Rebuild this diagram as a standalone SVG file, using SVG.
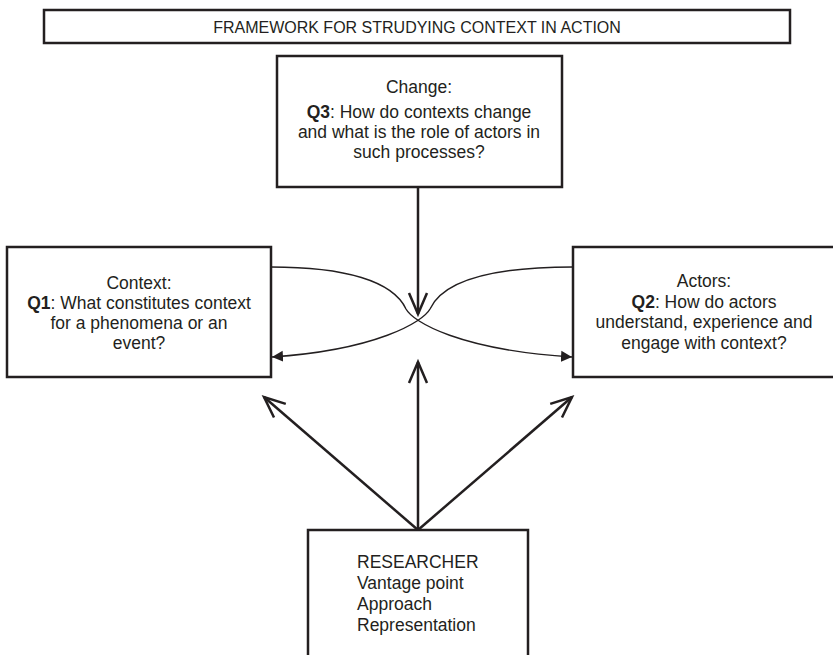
<svg xmlns="http://www.w3.org/2000/svg" width="833" height="655" viewBox="0 0 833 655">
<style>
.box{fill:#fff;stroke:#231f20;stroke-width:2.5}
text{font-family:"Liberation Sans",Arial,sans-serif;font-size:17.5px;fill:#231f20}
.c{text-anchor:middle}
.t{font-size:16px}
.thick{fill:none;stroke:#231f20;stroke-width:2.5}
.thin{fill:none;stroke:#231f20;stroke-width:1.4}
</style>
<defs>
<marker id="open" markerUnits="userSpaceOnUse" markerWidth="30" markerHeight="30" refX="22" refY="10" orient="auto" viewBox="0 0 30 20">
<path d="M1,1 L22,10 L1,19" fill="none" stroke="#231f20" stroke-width="2.5"/>
</marker>
<marker id="fill" markerUnits="userSpaceOnUse" markerWidth="12" markerHeight="12" refX="11" refY="6" orient="auto" viewBox="0 0 12 12">
<path d="M0,0.5 L11,6 L0,11.5 Z" fill="#231f20"/>
</marker>
</defs>
<rect width="833" height="655" fill="#fff"/>
<g id="title">
<rect class="box" x="44" y="10" width="746" height="33"/>
<text class="c t" x="417" y="33">FRAMEWORK FOR STRUDYING CONTEXT IN ACTION</text>
</g>
<g id="change">
<rect class="box" x="277" y="56" width="285" height="131"/>
<text class="c" x="419" y="93">Change:</text>
<text class="c" x="419" y="118"><tspan font-weight="bold">Q3</tspan>: How do contexts change</text>
<text class="c" x="419" y="138">and what is the role of actors in</text>
<text class="c" x="419" y="158">such processes?</text>
</g>
<g id="context">
<rect class="box" x="7" y="247" width="264" height="130"/>
<text class="c" x="139" y="289">Context:</text>
<text class="c" x="139" y="309"><tspan font-weight="bold">Q1</tspan>: What constitutes context</text>
<text class="c" x="139" y="329">for a phenomena or an</text>
<text class="c" x="139" y="349">event?</text>
</g>
<g id="actors">
<rect class="box" x="573" y="247" width="262" height="130"/>
<text class="c" x="704" y="287">Actors:</text>
<text class="c" x="704" y="308"><tspan font-weight="bold">Q2</tspan>: How do actors</text>
<text class="c" x="704" y="328">understand, experience and</text>
<text class="c" x="704" y="349">engage with context?</text>
</g>
<g id="researcher">
<rect class="box" x="308" y="530" width="220" height="140"/>
<text x="357" y="568">RESEARCHER</text>
<text x="357" y="589">Vantage point</text>
<text x="357" y="610">Approach</text>
<text x="357" y="631">Representation</text>
</g>
<g id="connectors">
<path class="thick" d="M418,187 L418,314" marker-end="url(#open)"/>
<path class="thick" d="M418,530 L418,362" marker-end="url(#open)"/>
<path class="thick" d="M418,530 L264,397" marker-end="url(#open)"/>
<path class="thick" d="M418,530 L572,397" marker-end="url(#open)"/>
<path class="thin" d="M271,267 C345,267 393,281 406,309 C413,322 460,350 572,357" marker-end="url(#fill)"/>
<path class="thin" d="M573,267 C491,267 443,281 430,309 C423,322 376,350 272,357" marker-end="url(#fill)"/>
</g>
</svg>
